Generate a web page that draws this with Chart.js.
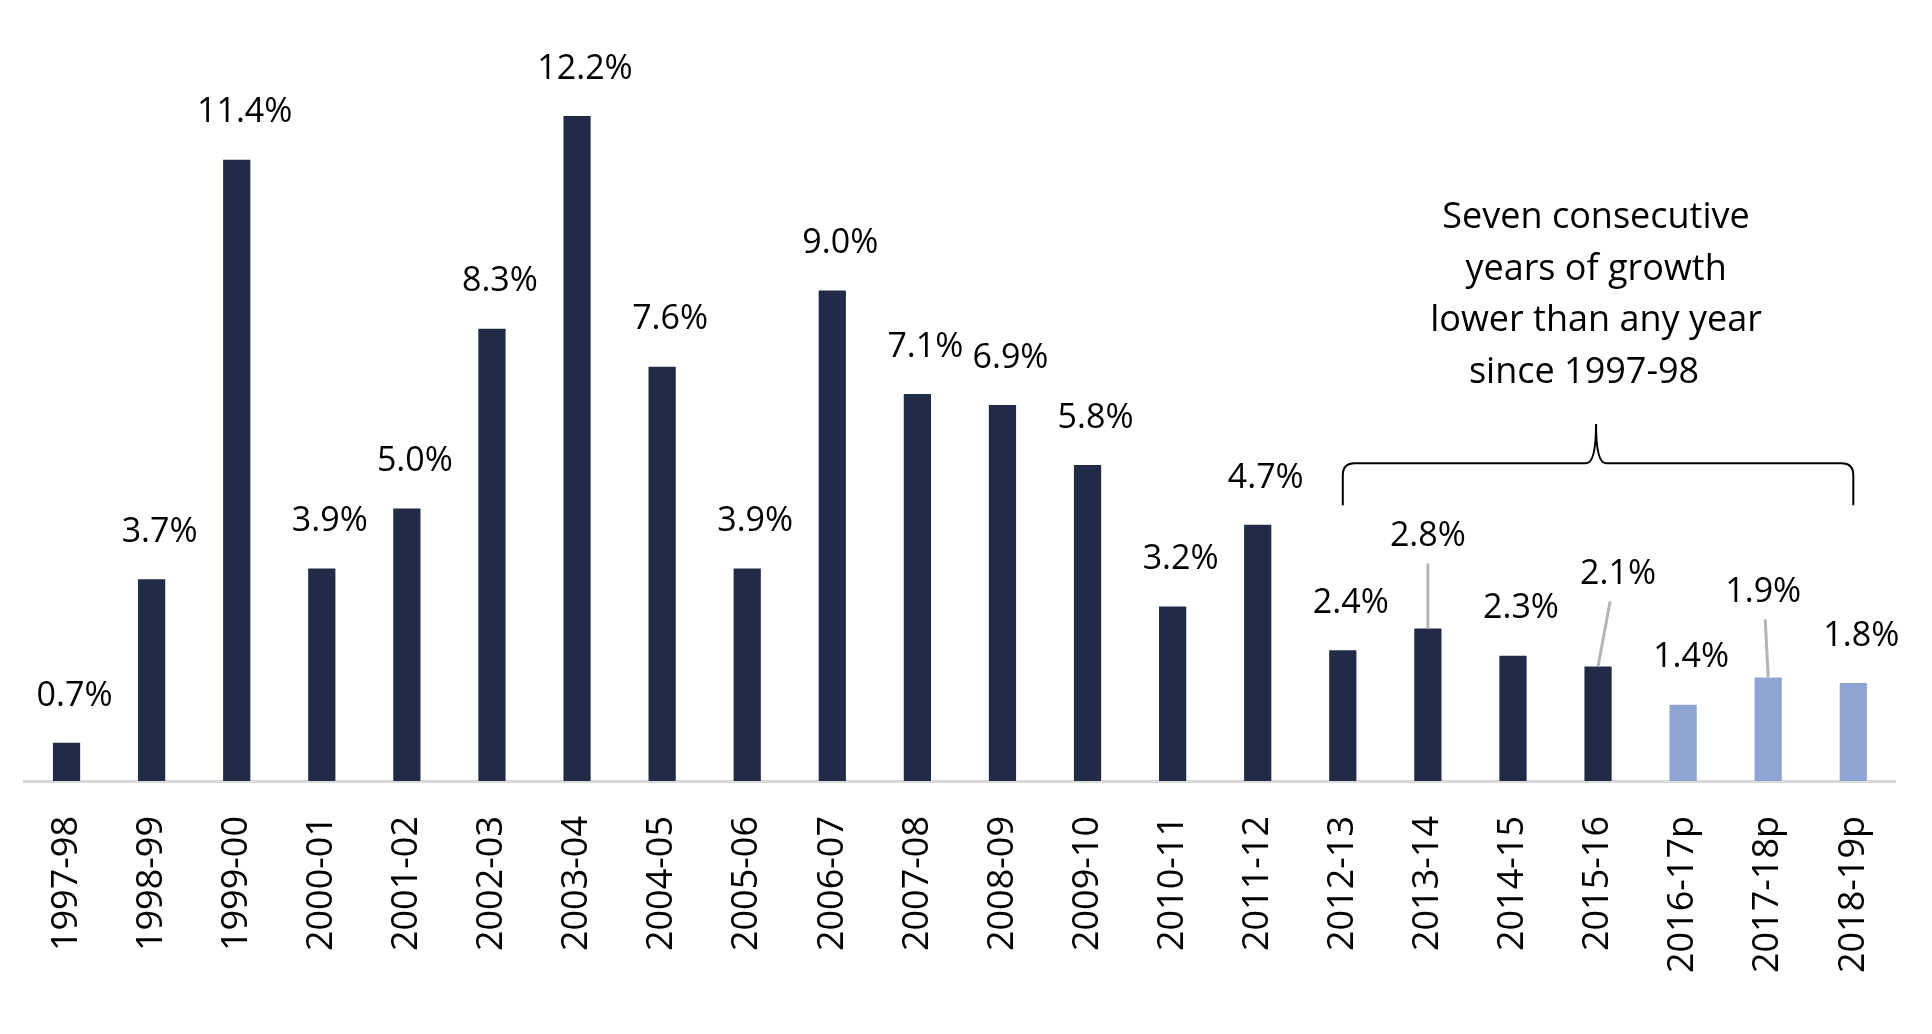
<!DOCTYPE html>
<html>
<head>
<meta charset="utf-8">
<script src="https://cdn.jsdelivr.net/npm/chart.js@4"></script>
<style>
  html, body { margin: 0; padding: 0; background: #fff; }
  #wrap { width: 1932px; height: 1034px; }
</style>
</head>
<body>
<div id="wrap"><canvas id="growth"></canvas></div>
<script>
const years = ['1997-98','1998-99','1999-00','2000-01','2001-02','2002-03','2003-04','2004-05','2005-06','2006-07','2007-08','2008-09','2009-10','2010-11','2011-12','2012-13','2013-14','2014-15','2015-16','2016-17p','2017-18p','2018-19p'];
const growth = [0.7,3.7,11.4,3.9,5.0,8.3,12.2,7.6,3.9,9.0,7.1,6.9,5.8,3.2,4.7,2.4,2.8,2.3,2.1,1.4,1.9,1.8];
const projected = [false,false,false,false,false,false,false,false,false,false,false,false,false,false,false,false,false,false,false,true,true,true];
const noteLines = ['Seven consecutive', 'years of growth', 'lower than any year', 'since 1997-98'];

// label nudges in pixels [dx, dy, leader line]
const nudge = { 16: [0, -45, true], 18: [20, -45, true], 20: [-5, -38, true] };

const dark = '#1f2b47', light = '#8ea5d3';

const labelPlugin = {
  id: 'labels',
  afterDatasetsDraw(chart) {
    const ctx = chart.ctx;
    const meta = chart.getDatasetMeta(0);
    const x = chart.scales.x, y = chart.scales.y;
    ctx.save();
    ctx.font = '34px "Open Sans", "Noto Sans", sans-serif';
    ctx.fillStyle = '#000';
    ctx.textAlign = 'center';
    ctx.textBaseline = 'bottom';
    meta.data.forEach((bar, i) => {
      const n = nudge[i] || [8, 0, false];
      const lx = bar.x + n[0], ly = bar.y - 30 + n[1];
      if (n[2]) {
        ctx.strokeStyle = '#b4b4b4';
        ctx.lineWidth = 3;
        ctx.beginPath();
        ctx.moveTo(bar.x, bar.y);
        ctx.lineTo(bar.x + n[0] * 0.6, ly + 10);
        ctx.stroke();
      }
      ctx.fillText(growth[i].toFixed(1) + '%', lx, ly);
    });

    // brace over the last seven years
    const x0 = x.getPixelForValue(15), x1 = x.getPixelForValue(21);
    const xm = (x0 + x1) / 2 - 2;
    const yb = y.getPixelForValue(5.83), ye = y.getPixelForValue(5.06), yt = y.getPixelForValue(6.55);
    ctx.strokeStyle = '#000';
    ctx.lineWidth = 2;
    ctx.beginPath();
    ctx.moveTo(x0, ye);
    ctx.lineTo(x0, yb + 12);
    ctx.quadraticCurveTo(x0, yb, x0 + 12, yb);
    ctx.lineTo(xm - 10, yb);
    ctx.quadraticCurveTo(xm, yb, xm, yt);
    ctx.quadraticCurveTo(xm, yb, xm + 10, yb);
    ctx.lineTo(x1 - 12, yb);
    ctx.quadraticCurveTo(x1, yb, x1, yb + 12);
    ctx.lineTo(x1, ye);
    ctx.stroke();

    ctx.font = '36px "Open Sans", "Noto Sans", sans-serif';
    ctx.textBaseline = 'middle';
    noteLines.forEach((t, k) => {
      ctx.fillText(t, xm - (k === 3 ? 12 : 0), 218 + k * 51.5);
    });
    ctx.restore();
  }
};

new Chart(document.getElementById('growth'), {
  type: 'bar',
  data: {
    labels: years,
    datasets: [{
      data: growth,
      backgroundColor: projected.map(p => p ? light : dark),
      barPercentage: 0.32,
      categoryPercentage: 1
    }]
  },
  options: {
    responsive: true,
    maintainAspectRatio: false,
    animation: false,
    layout: { padding: { left: 24, right: 22, top: 18, bottom: 0 } },
    plugins: { legend: { display: false }, tooltip: { enabled: false } },
    scales: {
      x: {
        afterFit(scale) { scale.height = 253; },
        grid: { display: false, drawTicks: false },
        border: { color: '#d9d9d9', width: 3 },
        ticks: {
          color: '#000',
          minRotation: 90, maxRotation: 90,
          padding: 35,
          font: { size: 36, family: '"Liberation Sans Narrow", "Open Sans", sans-serif' }
        }
      },
      y: {
        display: false,
        min: 0, max: 14
      }
    }
  },
  plugins: [labelPlugin]
});
</script>
</body>
</html>
